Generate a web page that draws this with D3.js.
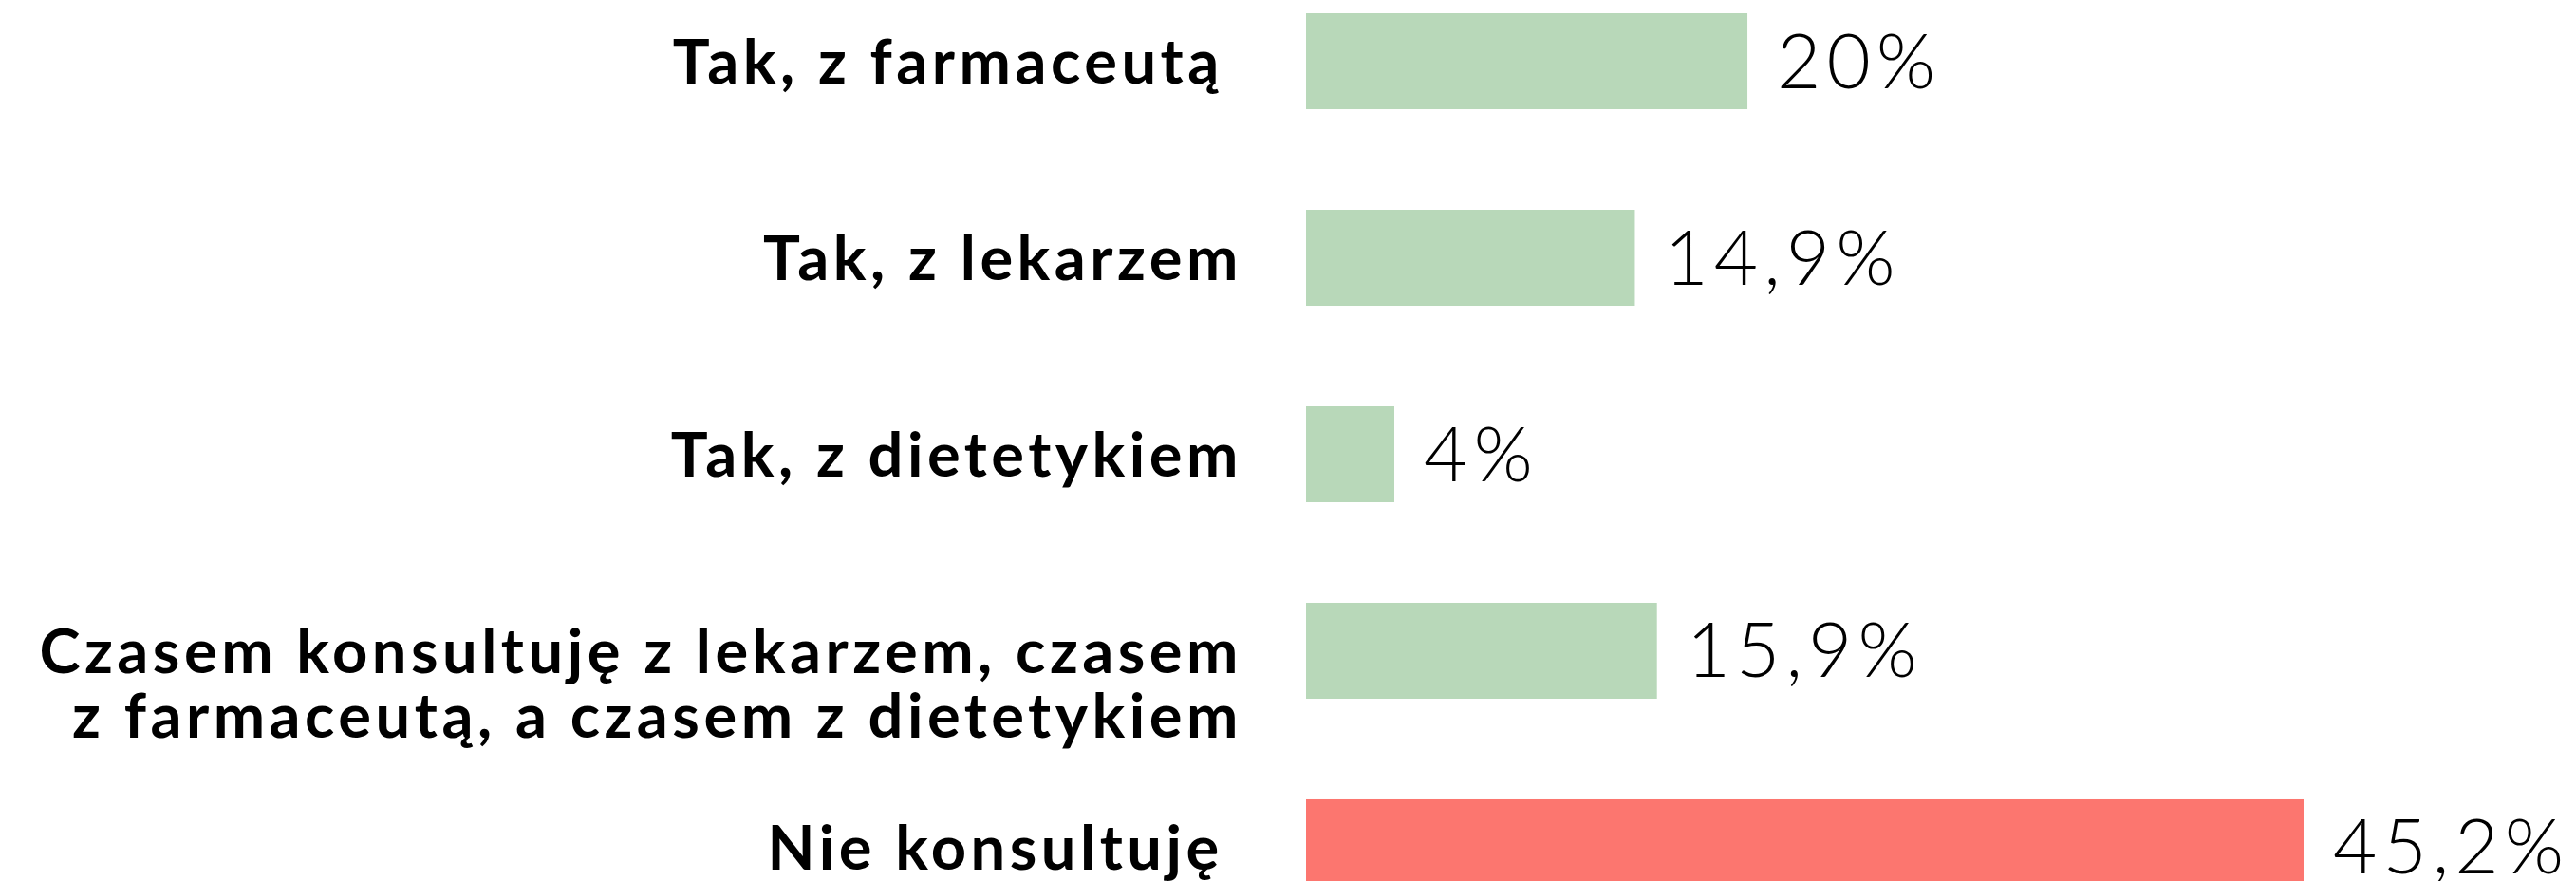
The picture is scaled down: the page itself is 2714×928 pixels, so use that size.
<!DOCTYPE html>
<html>
<head>
<meta charset="utf-8">
<script src="https://cdn.jsdelivr.net/npm/d3@7"></script>
<style>
  html, body { margin: 0; padding: 0; background: #ffffff; overflow: hidden; }
  svg { display: block; }
  text { white-space: pre; }
</style>
</head>
<body>
<svg id="chart" width="2714" height="928"></svg>
<script>
// ---- data ----
const categories = [
  "Tak, z farmaceutą ",
  "Tak, z lekarzem",
  "Tak, z dietetykiem",
  "Czasem konsultuję z lekarzem, czasem\nz farmaceutą, a czasem z dietetykiem",
  "Nie konsultuję "
];
const values = [20, 14.9, 4, 15.9, 45.2];
const highlight = [false, false, false, false, true];

// ---- layout ----
const barLeft = 1376;
const labelRight = 1309;

const svg = d3.select("#chart");

const x = d3.scaleLinear().domain([0, 45.2]).range([0, 1051]);
const y = d3.scaleBand().domain(d3.range(categories.length)).range([14, 943])
  .paddingInner(0.512).paddingOuter(0);

const pl = d3.formatLocale({decimal: ",", thousands: " ", grouping: [3], currency: ["", "zł"]});
const fmt = v => (Number.isInteger(v) ? pl.format("d")(v) : pl.format(".1f")(v)) + "%";

const g = svg.append("g");

g.selectAll("rect.bar").data(values).join("rect")
  .attr("class", "bar")
  .attr("x", barLeft)
  .attr("y", (d, i) => y(i))
  .attr("width", d => x(d))
  .attr("height", y.bandwidth())
  .attr("fill", (d, i) => highlight[i] ? "#fc766f" : "#b8d8b9");

// value labels
const valFont = 80;
g.selectAll("text.val").data(values).join("text")
  .attr("class", "val")
  .attr("x", d => barLeft + x(d) + 31)
  .attr("y", (d, i) => y(i) + y.bandwidth() / 2 + valFont * 0.35)
  .attr("font-family", "Lato, 'Open Sans', sans-serif")
  .attr("font-weight", 300)
  .attr("font-size", valFont)
  .attr("letter-spacing", 6)
  .attr("fill", "#000")
  .text(d => fmt(d));

// category labels
const catFont = 65;
const lineGap = 68;
const cats = g.selectAll("text.cat").data(categories).join("text")
  .attr("class", "cat")
  .attr("text-anchor", "end")
  .attr("font-family", "Lato, 'Open Sans', sans-serif")
  .attr("font-weight", 700)
  .attr("font-size", catFont)
  .attr("letter-spacing", 4.5)
  .attr("fill", "#000");

cats.each(function(d, i) {
  const lines = d.split("\n");
  const t = d3.select(this);
  const cy = y(i) + y.bandwidth() / 2 + catFont * 0.36;
  lines.forEach((ln, k) => {
    t.append("tspan")
      .attr("x", labelRight)
      .attr("y", cy + k * lineGap)
      .text(ln);
  });
});
</script>
</body>
</html>
